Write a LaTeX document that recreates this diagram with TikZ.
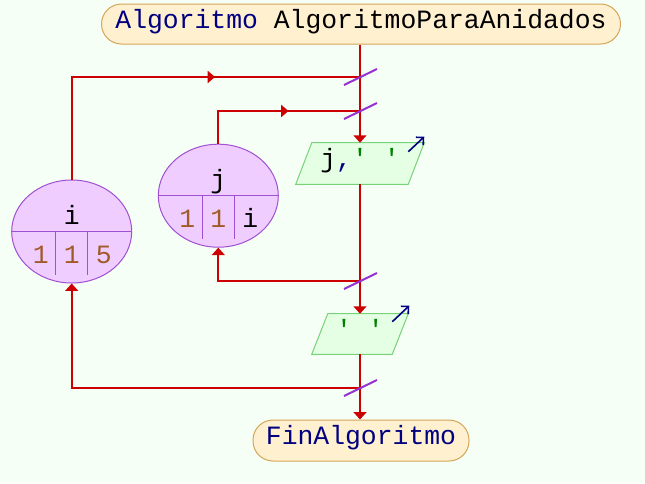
\documentclass[tikz,border=0pt]{standalone}
\usepackage{fontspec}
\setmonofont{Liberation Mono}
\usetikzlibrary{arrows.meta,shapes.geometric,decorations.markings,backgrounds}

\definecolor{fondo}{RGB}{245,255,245}
\definecolor{terfondo}{RGB}{255,240,208}
\definecolor{terborde}{RGB}{214,166,88}
\definecolor{salfondo}{RGB}{228,255,228}
\definecolor{salborde}{RGB}{120,210,120}
\definecolor{ciclofondo}{RGB}{240,205,255}
\definecolor{cicloborde}{RGB}{160,80,210}
\definecolor{rojo}{RGB}{204,0,0}
\definecolor{violeta}{RGB}{150,50,210}
\definecolor{clave}{RGB}{0,0,128}
\definecolor{cadena}{RGB}{0,128,0}
\definecolor{numero}{RGB}{160,90,40}

\tikzset{
  terminal/.style={draw=terborde, fill=terfondo, rounded corners=15pt, line width=0.75pt, inner sep=0pt, text height=13pt, text depth=6.5pt},
  salida/.style={inner sep=0pt, text height=13pt, text depth=6.5pt},
  paralelo/.style={draw=salborde, fill=salfondo, line width=0.75pt},
  ciclo/.style={ellipse, draw=cicloborde, fill=ciclofondo, line width=0.75pt, minimum width=90pt, minimum height=77.25pt, inner sep=0pt},
  division/.style={draw=cicloborde, line width=0.75pt},
  flecha/.style={color=rojo, line width=1.5pt},
  punta/.style={-{Triangle[length=5.5pt,width=9.5pt]}},
  bucle/.style={postaction=decorate, decoration={markings, mark=at position #1 with {\arrow{Triangle[length=5.5pt,width=9pt]}}}},
  corte/.style={draw=violeta, line width=1.5pt},
  escribe/.style={draw=clave, line width=1.2pt, -{Straight Barb[length=4pt]}},
}

\begin{document}
\begin{tikzpicture}[x=0.75pt, y=-0.75pt, font=\ttfamily\fontsize{19.8}{24}\selectfont]
\useasboundingbox (0,0) rectangle (645,483);
\begin{pgfonlayer}{background}
\fill[fondo] (0,0) rectangle (645,483);
\end{pgfonlayer}

\node[terminal, minimum width=389.25pt, minimum height=30pt] (inicio) at (361,24) {\textcolor{clave}{Algoritmo} AlgoritmoParaAnidados};
\node[terminal, minimum width=162pt, minimum height=30.75pt] (fin) at (361,440.5) {\textcolor{clave}{FinAlgoritmo}};

\node[ciclo] (cicloi) at (71.7,231.5) {};
\node[ciclo] (cicloj) at (218.3,195.7) {};

\node[salida, minimum width=84pt, minimum height=30.75pt] (escribir1) at (360,163.5) {j\textcolor{clave}{,}\textcolor{cadena}{\textquotesingle\ \textquotesingle}};
\node[salida, minimum width=60pt, minimum height=30pt] (escribir2) at (360,334) {\textcolor{cadena}{\textquotesingle\ \textquotesingle}};

\begin{pgfonlayer}{background}
\draw[paralelo] ([xshift=6pt]escribir1.north west) -- ([xshift=6pt]escribir1.north east) -- ([xshift=-6pt]escribir1.south east) -- ([xshift=-6pt]escribir1.south west) -- cycle;
\draw[paralelo] ([xshift=6pt]escribir2.north west) -- ([xshift=6pt]escribir2.north east) -- ([xshift=-6pt]escribir2.south east) -- ([xshift=-6pt]escribir2.south west) -- cycle;
\end{pgfonlayer}

% para i
\draw[division] (cicloi.west) -- (cicloi.east);
\draw[division] ([shift={(-16,0)}]cicloi.center) -- ([shift={(-16,43.5)}]cicloi.center);
\draw[division] ([shift={(16,0)}]cicloi.center) -- ([shift={(16,43.5)}]cicloi.center);
\node[anchor=base] (vari) at ([shift={(0,-7.5)}]cicloi.center) {i};
\node[anchor=base, text=numero] (desdei) at ([shift={(-31,32)}]cicloi.center) {1};
\node[anchor=base, text=numero] (pasoi) at ([shift={(0,32)}]cicloi.center) {1};
\node[anchor=base, text=numero] (hastai) at ([shift={(32,32)}]cicloi.center) {5};

% para j
\draw[division] (cicloj.west) -- (cicloj.east);
\draw[division] ([shift={(-16,0)}]cicloj.center) -- ([shift={(-16,43.5)}]cicloj.center);
\draw[division] ([shift={(16,0)}]cicloj.center) -- ([shift={(16,43.5)}]cicloj.center);
\node[anchor=base] (varj) at ([shift={(0,-7.5)}]cicloj.center) {j};
\node[anchor=base, text=numero] (desdej) at ([shift={(-31,32)}]cicloj.center) {1};
\node[anchor=base, text=numero] (pasoj) at ([shift={(0,32)}]cicloj.center) {1};
\node[anchor=base] (hastaj) at ([shift={(32,32)}]cicloj.center) {i};

\coordinate (entradai) at (360,77);
\coordinate (entradaj) at (360,111);
\coordinate (salidaj) at (360,281);
\coordinate (salidai) at (360,388);

\draw[flecha] (entradai |- inicio.south) -- (entradai) -- (entradaj);
\draw[flecha, punta] (entradaj) -- (escribir1.north);
\draw[flecha] (escribir1.south) -- (salidaj);
\draw[flecha, punta] (salidaj) -- (escribir2.north);
\draw[flecha] (escribir2.south) -- (salidai);
\draw[flecha, punta] (salidai) -- (salidai |- fin.north);

\draw[flecha, bucle=0.629] (cicloi.north) |- (entradai);
\draw[flecha, bucle=0.59] (cicloj.north) |- (entradaj);
\draw[flecha, punta] (salidaj) -| (cicloj.south);
\draw[flecha, punta] (salidai) -| (cicloi.south);

\draw[corte] ([shift={(-16,8)}]entradai) -- ([shift={(17,-8)}]entradai);
\draw[corte] ([shift={(-16,8)}]entradaj) -- ([shift={(17,-8)}]entradaj);
\draw[corte] ([shift={(-16,8)}]salidaj) -- ([shift={(17,-8)}]salidaj);
\draw[corte] ([shift={(-16,8)}]salidai) -- ([shift={(17,-8)}]salidai);

\draw[escribe] ([shift={(-8,9)}]escribir1.north east) -- ([shift={(8,-6)}]escribir1.north east);
\draw[escribe] ([shift={(-8,8)}]escribir2.north east) -- ([shift={(9,-8)}]escribir2.north east);

\end{tikzpicture}
\end{document}
